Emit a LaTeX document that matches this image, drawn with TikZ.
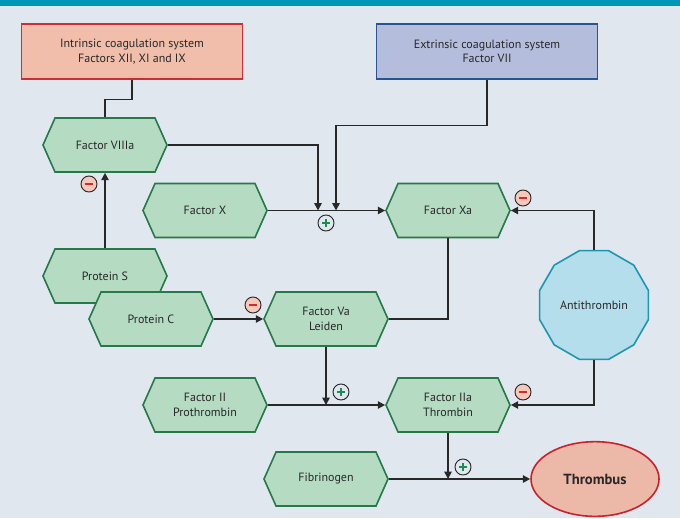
\documentclass[tikz,border=0pt]{standalone}
\usepackage{fontspec}
\setmainfont{PT Sans}
\usetikzlibrary{shapes.symbols,shapes.geometric,arrows.meta}
\definecolor{bgc}{RGB}{225,231,239}
\definecolor{topbar}{RGB}{0,150,182}
\definecolor{hexfill}{RGB}{181,219,195}
\definecolor{hexline}{RGB}{38,122,74}
\definecolor{intfill}{RGB}{240,190,170}
\definecolor{intline}{RGB}{205,45,55}
\definecolor{extfill}{RGB}{180,190,220}
\definecolor{extline}{RGB}{40,85,145}
\definecolor{antfill}{RGB}{180,222,236}
\definecolor{antline}{RGB}{30,150,175}
\definecolor{thrfill}{RGB}{236,184,168}
\definecolor{thrline}{RGB}{200,35,45}
\definecolor{linec}{RGB}{40,40,40}
\definecolor{txt}{RGB}{40,40,40}
\definecolor{plusg}{RGB}{30,140,80}
\definecolor{minfill}{RGB}{245,200,185}
\definecolor{minred}{RGB}{215,40,45}

\tikzset{
  hexa/.style={signal, signal to=west and east, signal pointer angle=132,
    draw=hexline, fill=hexfill, line width=1.2pt, minimum width=93pt,
    minimum height=40.5pt, inner sep=1pt, align=center, text=txt},
  sysbox/.style={rectangle, line width=1.2pt, minimum width=166pt,
    minimum height=41pt, align=center, text=txt},
  link/.style={draw=linec, line width=1.2pt},
  arr/.style={link, -{Triangle[length=5.5pt,width=5.5pt]}},
  plus/.style={circle, draw=linec, fill=bgc, line width=0.7pt, minimum size=12pt,
    inner sep=0pt, path picture={\draw[plusg,line width=0.8pt]
      (path picture bounding box.center) +(-3pt,0) -- +(3pt,0)
      +(0,-3pt) -- +(0,3pt);}},
  minus/.style={circle, draw=linec, fill=minfill, line width=0.7pt, minimum size=12pt,
    inner sep=0pt, path picture={\draw[minred,line width=1pt]
      (path picture bounding box.center) +(-2.8pt,0) -- +(2.8pt,0);}}
}

\begin{document}
\begin{tikzpicture}[x=0.75pt,y=-0.75pt,font=\fontsize{9}{10.8}\selectfont]
\fill[bgc] (0,0) rectangle (680,518);
\useasboundingbox (0,0) rectangle (680,518);
\fill[topbar] (0,0) rectangle (680,6);

% source systems
\node[sysbox, draw=intline, fill=intfill] (intr) at (132,51.5) {Intrinsic coagulation system\\Factors XII, XI and IX};
\node[sysbox, draw=extline, fill=extfill] (extr) at (487,51.5) {Extrinsic coagulation system\\Factor VII};

% factors
\node[hexa] (f8a) at (105,145) {Factor VIIIa};
\node[hexa] (fx) at (205,210.5) {Factor X};
\node[hexa] (fxa) at (448,210.5) {Factor Xa};
\node[hexa] (ps) at (105,276) {Protein S};
\node[hexa] (pc) at (151,319) {Protein C};
\node[hexa] (fva) at (326,319) {Factor Va\\Leiden};
\node[hexa] (f2) at (205,405) {Factor II\\Prothrombin};
\node[hexa] (f2a) at (448,405) {Factor IIa\\Thrombin};
\node[hexa] (fib) at (326,479) {Fibrinogen};
\node[regular polygon, regular polygon sides=12, minimum size=81pt, draw=antline,
  fill=antfill, line width=1.2pt, text=txt] (anti) at (594,305) {Antithrombin};
\node[ellipse, draw=thrline, fill=thrfill, line width=1.2pt, minimum width=96pt,
  minimum height=56pt, text=txt, font=\fontsize{11}{13}\selectfont\bfseries] (thr) at (595,479) {Thrombus};

\coordinate (j8) at (318,210.5);
\coordinate (j7) at (336,210.5);
\coordinate (jv) at (326,405);
\coordinate (jf) at (448,479);

% connectors
\draw[link] (intr.south) -- ++(0,20) -| (f8a.north);
\draw[arr] (f8a.east) -| (j8);
\draw[arr] (extr.south) -- ++(0,46) -| (j7);
\draw[arr] (fx.east) -- (fxa.west);
\draw[arr] (anti.north) |- (fxa.east);
\draw[link] (fxa.south) |- (fva.east);
\draw[arr] (ps.north) -- (f8a.south);
\draw[arr] (pc.east) -- (fva.west);
\draw[arr] (fva.south) -- (jv);
\draw[arr] (f2.east) -- (f2a.west);
\draw[arr] (anti.south) |- (f2a.east);
\draw[arr] (f2a.south) -- (jf);
\draw[arr] (fib.east) -- (thr.west);

% signs
\node[plus] (p1) at (326,223) {};
\node[plus] (p2) at (341,392) {};
\node[plus] (p3) at (463,467) {};
\node[minus] (m1) at (89,184) {};
\node[minus] (m2) at (253,305) {};
\node[minus] (m3) at (523,198) {};
\node[minus] (m4) at (523,392) {};
\end{tikzpicture}
\end{document}
